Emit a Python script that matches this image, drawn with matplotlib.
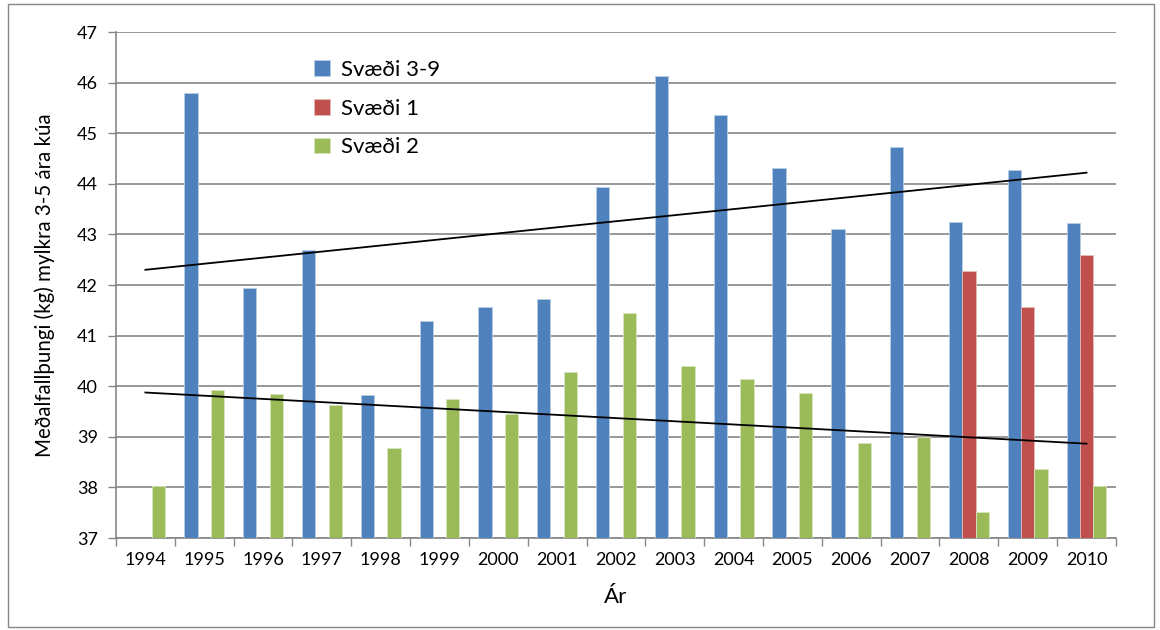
import numpy as np
import matplotlib
matplotlib.use("Agg")
import matplotlib.pyplot as plt
from matplotlib.patches import Rectangle

# data
years = ["1994", "1995", "1996", "1997", "1998", "1999", "2000", "2001", "2002",
         "2003", "2004", "2005", "2006", "2007", "2008", "2009", "2010"]
svaedi_3_9 = [np.nan, 45.80, 41.94, 42.69, 39.82, 41.29, 41.57, 41.72, 43.93,
              46.13, 45.36, 44.32, 43.11, 44.73, 43.24, 44.28, 43.22]
svaedi_1 = [np.nan] * 14 + [42.28, 41.56, 42.59]
svaedi_2 = [38.03, 39.92, 39.84, 39.63, 38.77, 39.74, 39.45, 40.29, 41.45,
            40.41, 40.14, 39.86, 38.87, 38.99, 37.52, 38.36, 38.03]

plt.rcParams['font.family'] = ['Lato', 'DejaVu Sans']

fig = plt.figure(figsize=(11.6, 6.3), dpi=100)
ax = fig.add_axes([0.1, 0.146, 0.862, 0.803])

# outer chart border
fig.patches.append(Rectangle((0.007, 0.004), 0.988, 0.99, transform=fig.transFigure,
                             fill=False, edgecolor="#868686", linewidth=1))

x = np.arange(len(years))
w = 0.226
series = [(svaedi_3_9, "#4F81BD", "#B9CDE5", "Svæði 3-9", -w),
          (svaedi_1, "#C0504D", "#E6B9B8", "Svæði 1", 0),
          (svaedi_2, "#9BBB59", "#D7E4BD", "Svæði 2", w)]
for vals, col, edge, lab, off in series:
    v = np.array(vals, dtype=float)
    ax.bar(x + off, v - 37, bottom=37, width=w, color=col, edgecolor=edge,
           linewidth=0.6, label=lab, zorder=3)

# linear trendlines (Excel style, over category index)
for vals in (svaedi_3_9, svaedi_2):
    v = np.array(vals, dtype=float)
    ok = ~np.isnan(v)
    k, b = np.polyfit(x[ok], v[ok], 1)
    ax.plot([x[0], x[-1]], [k * x[0] + b, k * x[-1] + b], color="black", lw=1.3, zorder=4)

ax.set_xlim(-0.5, len(years) - 0.5)
ax.set_ylim(37, 47)
ax.set_yticks(range(37, 48))
ax.set_xticks(x)
ax.set_xticklabels(years)
ax.set_xticks(np.arange(-0.5, len(years), 1), minor=True)
ax.tick_params(axis="x", which="major", length=0, labelsize=13, pad=10)
ax.tick_params(axis="x", which="minor", length=6, color="#868686", width=1)
ax.tick_params(axis="y", length=6, color="#868686", width=1, labelsize=13, pad=7)
ax.grid(axis="y", color="#868686", lw=1.2, zorder=0)
ax.set_axisbelow(True)
for s in ("top", "right"):
    ax.spines[s].set_visible(False)
for s in ("left", "bottom"):
    ax.spines[s].set_color("#868686")
    ax.spines[s].set_linewidth(1.2)

ax.set_xlabel("Ár", fontsize=16, labelpad=14)
ax.set_ylabel("Meðalfallþungi (kg) mylkra 3-5 ára kúa", fontsize=14.8, labelpad=16)

ax.legend(loc="upper left", bbox_to_anchor=(0.178, 0.985), frameon=False, fontsize=16,
          handlelength=0.7, handleheight=0.7, handletextpad=0.5, labelspacing=0.85)

fig.savefig("out.png", dpi=100)
